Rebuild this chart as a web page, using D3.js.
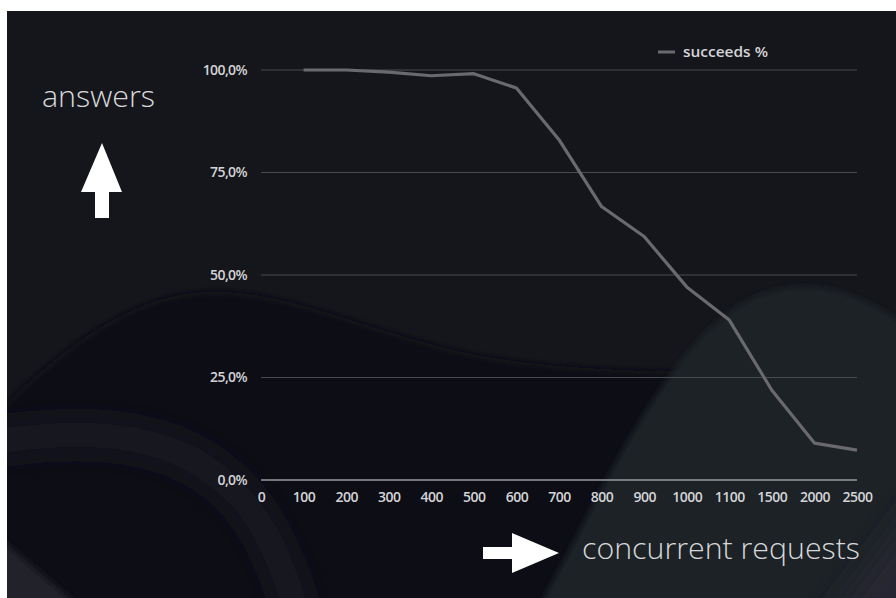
<!DOCTYPE html>
<html>
<head>
<meta charset="utf-8">
<script src="https://cdn.jsdelivr.net/npm/d3@7/dist/d3.min.js"></script>
<style>
  html, body { margin: 0; padding: 0; background: #ffffff; }
  svg { display: block; }
</style>
</head>
<body>
<svg id="chart" width="896" height="598"></svg>
<script>
// ---- data ----
const categories = ["0","100","200","300","400","500","600","700","800","900","1000","1100","1500","2000","2500"];
const seriesCategories = ["100","200","300","400","500","600","700","800","900","1000","1100","1500","2000","2500"];
const succeedsPct = [100.0, 100.0, 99.5, 98.6, 99.1, 95.6, 83.0, 66.7, 59.4, 47.1, 39.0, 21.9, 9.0, 7.3];
const yTicks = [0, 25, 50, 75, 100];
const seriesName = "succeeds %";
const yAxisTitle = "answers";
const xAxisTitle = "concurrent requests";

const svg = d3.select("#chart");
const W = 896, H = 598;

// ---- background ----
const defs = svg.append("defs");
function addBlur(id, sd) {
  const f = defs.append("filter").attr("id", id)
    .attr("filterUnits", "userSpaceOnUse").attr("x", -100).attr("y", -100).attr("width", 1100).attr("height", 800);
  f.append("feGaussianBlur").attr("stdDeviation", sd);
}
addBlur("soft", 3);
addBlur("wide", 14);
const clip = defs.append("clipPath").attr("id", "panel");
clip.append("rect").attr("x", 7).attr("y", 11).attr("width", W - 7).attr("height", H - 11);

svg.append("rect").attr("x", 7).attr("y", 11).attr("width", W - 7).attr("height", H - 11).attr("fill", "#15161b");

const bg = svg.append("g").attr("clip-path", "url(#panel)");
const curve = d3.line().curve(d3.curveBasis);
// darker hump on the left
bg.append("path")
  .attr("d", curve([[-20, 430], [60, 350], [160, 290], [260, 290], [380, 330], [480, 360], [620, 372], [760, 372], [920, 380], [920, 640], [-20, 640]]) + "Z")
  .attr("fill", "#101115").attr("filter", "url(#soft)");
// soft lighter band lower-left
bg.append("path")
  .attr("d", curve([[-30, 445], [60, 432], [150, 438], [220, 470], [270, 530], [300, 620]]))
  .attr("fill", "none").attr("stroke", "#1c1e25").attr("stroke-width", 26).attr("filter", "url(#wide)");
// bottom-left corner light triangle
bg.append("path")
  .attr("d", "M0,538 L95,620 L0,620 Z")
  .attr("fill", "#20222a").attr("filter", "url(#soft)");
// big lighter hump on the right
bg.append("path")
  .attr("d", curve([[520, 640], [565, 560], [620, 450], [690, 340], [760, 285], [840, 285], [900, 320], [930, 340], [930, 640]]) + "Z")
  .attr("fill", "#1e2028").attr("filter", "url(#soft)");
// bottom-right sheen
bg.append("path")
  .attr("d", "M940,470 L810,640 L940,640 Z")
  .attr("fill", "#262830").attr("filter", "url(#wide)");

// ---- scales ----
const x = d3.scalePoint().domain(categories).range([261, 857]).padding(0);
const y = d3.scaleLinear().domain([0, 100]).range([480, 70]);

const labelFont = "'Open Sans', 'Lato', sans-serif";

// gridlines
const grid = svg.append("g");
grid.selectAll("line").data(yTicks).join("line")
  .attr("x1", 261).attr("x2", 857)
  .attr("y1", d => y(d)).attr("y2", d => y(d))
  .attr("stroke", d => d === 0 ? "#9a9a9e" : "#4a4b50")
  .attr("stroke-width", d => d === 0 ? 1.5 : 1.2);

// y axis labels
const yAxis = d3.axisLeft(y).tickValues(yTicks).tickSize(0).tickPadding(14)
  .tickFormat(d => d3.format(".1f")(d).replace(".", ",") + "%");
const gy = svg.append("g").attr("transform", "translate(261,0)").call(yAxis);
gy.select(".domain").remove();
gy.selectAll("text").attr("fill", "#d4d4d6").attr("font-size", 14).attr("font-family", labelFont).attr("font-weight", 600).attr("letter-spacing", -0.6);

// x axis labels
const xAxis = d3.axisBottom(x).tickSize(0).tickPadding(12);
const gx = svg.append("g").attr("transform", "translate(0,480)").call(xAxis);
gx.select(".domain").remove();
gx.selectAll("text").attr("fill", "#d4d4d6").attr("font-size", 14).attr("font-family", labelFont).attr("font-weight", 600).attr("letter-spacing", -0.5);

// series line
const data = seriesCategories.map((c, i) => ({ c, v: succeedsPct[i] }));
svg.append("path")
  .datum(data)
  .attr("fill", "none")
  .attr("stroke", "#6a6a6e")
  .attr("stroke-width", 3.2)
  .attr("stroke-linejoin", "round")
  .attr("d", d3.line().x(d => x(d.c)).y(d => y(d.v)));

// legend
const lg = svg.append("g").attr("transform", "translate(658,52)");
lg.append("line").attr("x1", 0).attr("x2", 17).attr("y1", 0).attr("y2", 0).attr("stroke", "#6a6a6e").attr("stroke-width", 3);
lg.append("text").attr("x", 25).attr("y", 5).text(seriesName)
  .attr("fill", "#d4d4d6").attr("font-size", 14).attr("font-family", labelFont).attr("font-weight", 600)
  .attr("textLength", 85).attr("lengthAdjust", "spacingAndGlyphs");

// axis titles
svg.append("text").attr("x", 42).attr("y", 107).text(yAxisTitle)
  .attr("fill", "#d8d8da").attr("font-size", 30).attr("font-family", "'Open Sans', sans-serif").attr("font-weight", 300)
  .attr("textLength", 113).attr("lengthAdjust", "spacingAndGlyphs");
svg.append("text").attr("x", 582).attr("y", 559).text(xAxisTitle)
  .attr("fill", "#d8d8da").attr("font-size", 30).attr("font-family", "'Open Sans', sans-serif").attr("font-weight", 300)
  .attr("textLength", 278).attr("lengthAdjust", "spacingAndGlyphs");

// arrows
const arrowLine = d3.line();
svg.append("path")
  .attr("d", arrowLine([[102, 143], [122, 192], [109, 192], [109, 218], [95, 218], [95, 192], [81, 192]]) + "Z")
  .attr("fill", "#ffffff");
svg.append("path")
  .attr("d", arrowLine([[559, 553], [512, 533], [512, 547], [483, 547], [483, 559], [512, 559], [512, 573]]) + "Z")
  .attr("fill", "#ffffff");
</script>
</body>
</html>
